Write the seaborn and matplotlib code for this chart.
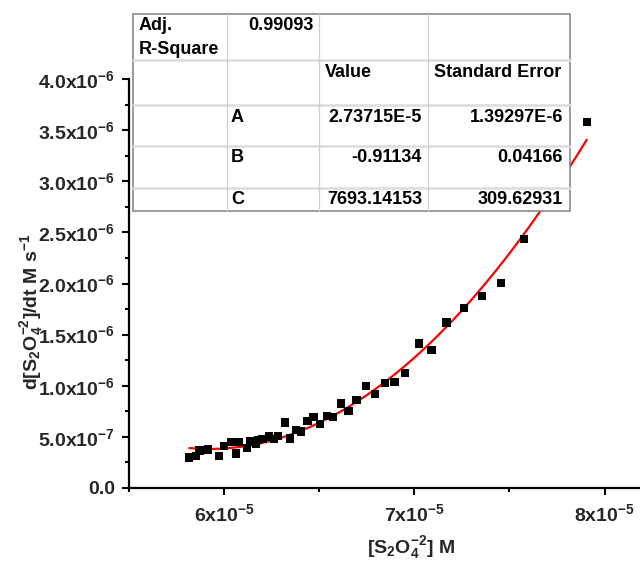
import numpy as np
import pandas as pd
import matplotlib
matplotlib.use("Agg")
import matplotlib.pyplot as plt
from matplotlib.ticker import MultipleLocator, FixedLocator, FuncFormatter
from matplotlib.lines import Line2D
from matplotlib.patches import Rectangle
import seaborn as sns

# Measured rate vs. dithionite concentration
conc = [5.818, 5.853, 5.871, 5.916, 5.974, 6.000, 6.039, 6.063, 6.079, 6.121,
        6.139, 6.168, 6.179, 6.202, 6.236, 6.263, 6.285, 6.322, 6.347, 6.378,
        6.404, 6.438, 6.470, 6.503, 6.540, 6.573, 6.615, 6.654, 6.697, 6.746,
        6.793, 6.846, 6.896, 6.951, 7.026, 7.091, 7.170, 7.261, 7.354, 7.454,
        7.576, 7.906]  # x 1e-5 M
rate = [0.298, 0.316, 0.367, 0.377, 0.316, 0.411, 0.447, 0.337, 0.453, 0.388,
        0.455, 0.430, 0.469, 0.479, 0.504, 0.479, 0.509, 0.639, 0.484, 0.567,
        0.551, 0.658, 0.694, 0.623, 0.704, 0.697, 0.828, 0.753, 0.863, 0.998,
        0.917, 1.030, 1.037, 1.122, 1.413, 1.350, 1.617, 1.760, 1.878, 2.007,
        2.435, 3.577]  # x 1e-6 M/s

# Parabola fit y = A + B*x + C*x^2
fit_names = ["A", "B", "C"]
fit_values = [2.73715e-5, -0.91134, 7693.14153]
fit_value_text = ["2.73715E-5", "-0.91134", "7693.14153"]
fit_error_text = ["1.39297E-6", "0.04166", "309.62931"]
adj_r2_text = "0.99093"

x_ticks = [6e-5, 7e-5, 8e-5]
y_ticks = [0.0, 0.5e-6, 1.0e-6, 1.5e-6, 2.0e-6, 2.5e-6, 3.0e-6, 3.5e-6, 4.0e-6]

df = pd.DataFrame({"x": np.array(conc) * 1e-5, "y": np.array(rate) * 1e-6})
A, B, C = fit_values
xs = np.linspace(df["x"].min(), df["x"].max(), 200)
fit_df = pd.DataFrame({"x": xs, "y": A + B * xs + C * xs ** 2})

sns.set_theme(style="ticks")
plt.rcParams["font.family"] = ["Liberation Sans", "DejaVu Sans"]
plt.rcParams["font.weight"] = "bold"
plt.rcParams["mathtext.default"] = "regular"

W, H = 640, 561
fig = plt.figure(figsize=(W / 100, H / 100), dpi=100)

def fx(px):
    return px / W

def fy(py):
    return 1 - py / H

ax_l, ax_r, ax_t, ax_b = 128.8, 638.9, 79, 488
ax = fig.add_axes([fx(ax_l), fy(ax_b), (ax_r - ax_l) / W, (ax_b - ax_t) / H])

sns.lineplot(data=fit_df, x="x", y="y", ax=ax, color="#ff0000", linewidth=1.6, zorder=2)
sns.scatterplot(data=df, x="x", y="y", ax=ax, marker="s", color="black", s=36,
                edgecolor="none", zorder=3)

ax.set_xlim(5.5e-5, 8.18e-5)
ax.set_ylim(0, 4.0e-6)
sns.despine(ax=ax)
for side in ("left", "bottom"):
    ax.spines[side].set_linewidth(1.6)
    ax.spines[side].set_color("black")

def sci_y(v, pos):
    if v == 0:
        return "0.0"
    e = int(np.floor(np.log10(v)))
    return f"{v / 10 ** e:.1f}x10$^{{{e}}}$"

def sci_x(v, pos):
    e = int(np.floor(np.log10(v)))
    return f"{v / 10 ** e:.0f}x10$^{{{e}}}$"

ax.xaxis.set_major_locator(FixedLocator(x_ticks))
ax.yaxis.set_major_locator(FixedLocator(y_ticks))
ax.xaxis.set_major_formatter(FuncFormatter(sci_x))
ax.yaxis.set_major_formatter(FuncFormatter(sci_y))
ax.xaxis.set_minor_locator(MultipleLocator(0.5e-5))
ax.yaxis.set_minor_locator(MultipleLocator(0.25e-6))
ax.tick_params(which="major", direction="out", length=5, width=1.5, color="black",
               labelsize=14, pad=5)
ax.tick_params(which="minor", direction="out", length=3, width=1.5, color="black")
ax.tick_params(axis="x", pad=6)
for lab in ax.get_xticklabels() + ax.get_yticklabels():
    lab.set_fontweight("bold")

ax.set_xlabel(r"[S$_2$O$_4^{-2}$] M", fontsize=14, fontweight="bold")
ax.set_ylabel(r"d[S$_2$O$_4^{-2}$]/dt M s$^{-1}$", fontsize=14, fontweight="bold")
ax.xaxis.set_label_coords((411 - ax_l) / (ax_r - ax_l), -(534 - ax_b) / (ax_b - ax_t))
ax.yaxis.set_label_coords(-(ax_l - 45) / (ax_r - ax_l), (ax_b - 312) / (ax_b - ax_t))

# Fit summary table
cols = [133, 227, 319, 428, 570]
rows = [14, 60, 105.5, 146, 187.5, 211]
fig.add_artist(Rectangle((fx(cols[0]), fy(rows[-1])), (cols[-1] - cols[0]) / W,
                         (rows[-1] - rows[0]) / H, facecolor="white",
                         edgecolor="#7f7f7f", linewidth=1.1, zorder=10))
for r in rows[1:-1]:
    fig.add_artist(Line2D([fx(cols[0]), fx(cols[-1])], [fy(r), fy(r)],
                          color="#dcdcdc", linewidth=1.8, zorder=11))
for c in cols[1:-1]:
    fig.add_artist(Line2D([fx(c), fx(c)], [fy(rows[0]), fy(rows[-1])],
                          color="#d0d0d0", linewidth=0.9, zorder=11))

tk = dict(fontsize=13, fontweight="bold", color="black", zorder=12, va="center")
fig.text(fx(139), fy(25), "Adj.", ha="left", **tk)
fig.text(fx(139), fy(49), "R-Square", ha="left", **tk)
fig.text(fx(314), fy(25), adj_r2_text, ha="right", **tk)
fig.text(fx(325), fy(72), "Value", ha="left", **tk)
fig.text(fx(434), fy(72), "Standard Error", ha="left", **tk)
for name, vt, et, yy in zip(fit_names, fit_value_text, fit_error_text, [118, 158, 199]):
    fig.text(fx(231), fy(yy), name, ha="left", **tk)
    fig.text(fx(422), fy(yy), vt, ha="right", **tk)
    fig.text(fx(563), fy(yy), et, ha="right", **tk)

fig.savefig("out.png", dpi=100)
